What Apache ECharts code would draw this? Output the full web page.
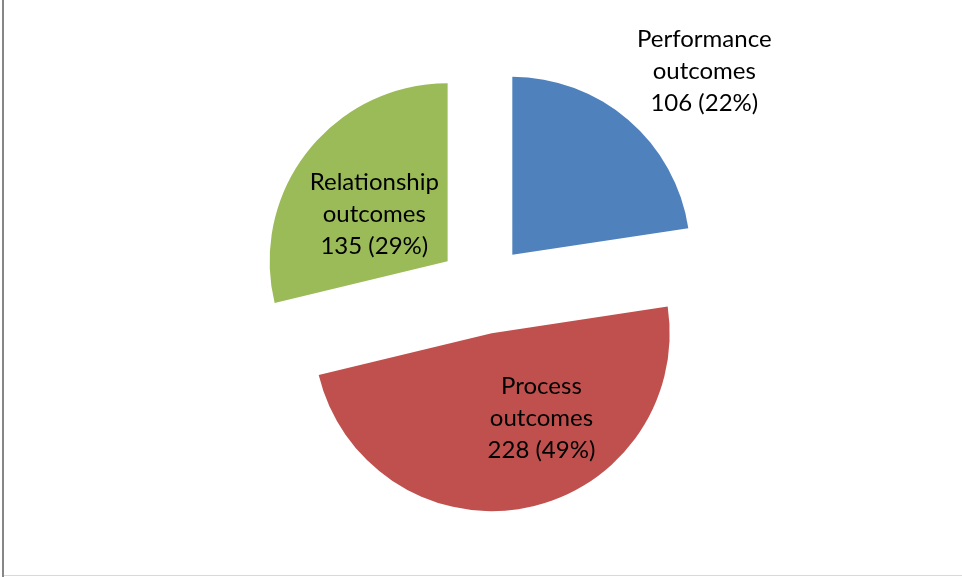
<!DOCTYPE html>
<html>
<head>
<meta charset="utf-8">
<script src="https://cdn.jsdelivr.net/npm/echarts@6/dist/echarts.min.js"></script>
<style>
html,body{margin:0;padding:0;background:#fff;}
#chart{width:962px;height:577px;}
</style>
</head>
<body>
<div id="chart"></div>
<script>
var categories = ['Performance\noutcomes', 'Process\noutcomes', 'Relationship\noutcomes'];
var values = [106, 228, 135];
var percentLabels = ['22%', '49%', '29%'];
var colors = ['#4F81BD', '#C0504D', '#9BBB59'];
var labelShift = [[132, -114], [32, -5], [-1, 10]];

var chart = echarts.init(document.getElementById('chart'));
var data = categories.map(function (c, i) {
  return {
    name: c,
    value: values[i],
    selected: true,
    itemStyle: { color: colors[i] }
  };
});

chart.setOption({
  animation: false,
  graphic: [
    { type: 'rect', shape: { x: 2, y: 0, width: 2, height: 577 }, style: { fill: '#868686' }, silent: true },
    { type: 'rect', shape: { x: 4, y: 575, width: 958, height: 1 }, style: { fill: '#D9D9D9' }, silent: true }
  ],
  series: [{
    type: 'pie',
    center: [483, 289],
    radius: 178,
    startAngle: 90,
    clockwise: true,
    selectedMode: 'multiple',
    selectedOffset: 45,
    data: data,
    itemStyle: { borderWidth: 0 },
    select: { itemStyle: { borderWidth: 0 } },
    emphasis: { disabled: true },
    label: {
      position: 'inside',
      formatter: function (p) {
        return p.name + '\n' + p.value + ' (' + percentLabels[p.dataIndex] + ')';
      },
      fontFamily: 'Lato, "Open Sans", sans-serif',
      fontSize: 24,
      lineHeight: 32,
      color: '#000',
      align: 'center'
    },
    labelLine: { show: false },
    labelLayout: function (params) {
      var s = labelShift[params.dataIndex];
      return { dx: s[0], dy: s[1] };
    }
  }]
});
</script>
</body>
</html>
